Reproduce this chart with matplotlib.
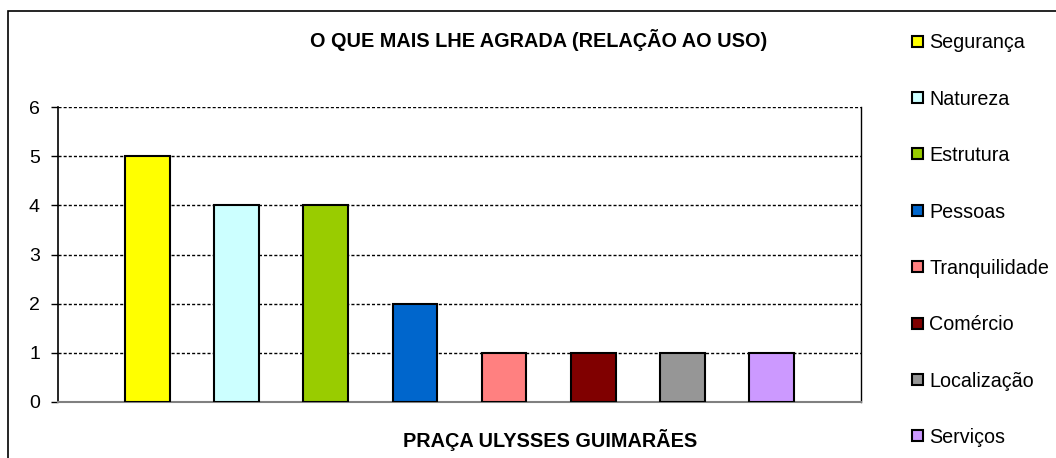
import matplotlib.pyplot as plt
from matplotlib.patches import Rectangle

plt.rcParams['font.family'] = ['Liberation Sans', 'DejaVu Sans']

categorias = ["Segurança", "Natureza", "Estrutura", "Pessoas",
              "Tranquilidade", "Comércio", "Localização", "Serviços"]
valores = [5, 4, 4, 2, 1, 1, 1, 1]
cores = ["#FFFF00", "#CCFFFF", "#99CC00", "#0066CC",
         "#FF8080", "#800000", "#969696", "#CC99FF"]

W, H = 1056, 458
fig = plt.figure(figsize=(W / 100, H / 100), dpi=100)

# moldura externa do gráfico
fig.patches.append(Rectangle((8 / W, -0.1), 1.2, 1 - 11 / H + 0.1,
                             transform=fig.transFigure, fill=False,
                             edgecolor="black", linewidth=1.2))

ax = fig.add_axes([58 / W, 1 - 402 / H, (861 - 58) / W, (402 - 107) / H])

for i, (v, c, nome) in enumerate(zip(valores, cores, categorias)):
    ax.bar(i, v, width=0.5, color=c, edgecolor="black", linewidth=1.5,
           label=nome, zorder=3)

ax.set_xlim(-1, 8)
ax.set_ylim(0, 6)
ax.set_yticks(range(7))
ax.set_xticks([])
ax.tick_params(axis="y", labelsize=14, length=5, width=1, pad=8)
ax.yaxis.grid(True, linestyle=(0, (2.2, 1.5)), color="black", linewidth=1)
ax.spines["top"].set_visible(False)
ax.spines["left"].set_linewidth(1.2)
ax.spines["right"].set_linewidth(1)
ax.spines["bottom"].set_color("#808080")
ax.spines["bottom"].set_linewidth(1.5)
ax.set_axisbelow(True)

fig.text(539 / W, 1 - 40 / H, "O QUE MAIS LHE AGRADA (RELAÇÃO AO USO)",
         ha="center", va="center", fontsize=14.3, fontweight="bold")
fig.text(550 / W, 1 - 440 / H, "PRAÇA ULYSSES GUIMARÃES",
         ha="center", va="center", fontsize=14.3, fontweight="bold")

# legenda: quadrado colorido + nome, uma linha por categoria
for i, (c, nome) in enumerate(zip(cores, categorias)):
    yc = 41 + i * 56.4
    fig.patches.append(Rectangle((912 / W, 1 - (yc + 5.5) / H), 11 / W, 11 / H,
                                 transform=fig.transFigure, facecolor=c,
                                 edgecolor="black", linewidth=1.5))
    fig.text(929 / W, 1 - yc / H, nome, ha="left", va="center_baseline",
             fontsize=14.2)

fig.savefig("out.png", dpi=100)
